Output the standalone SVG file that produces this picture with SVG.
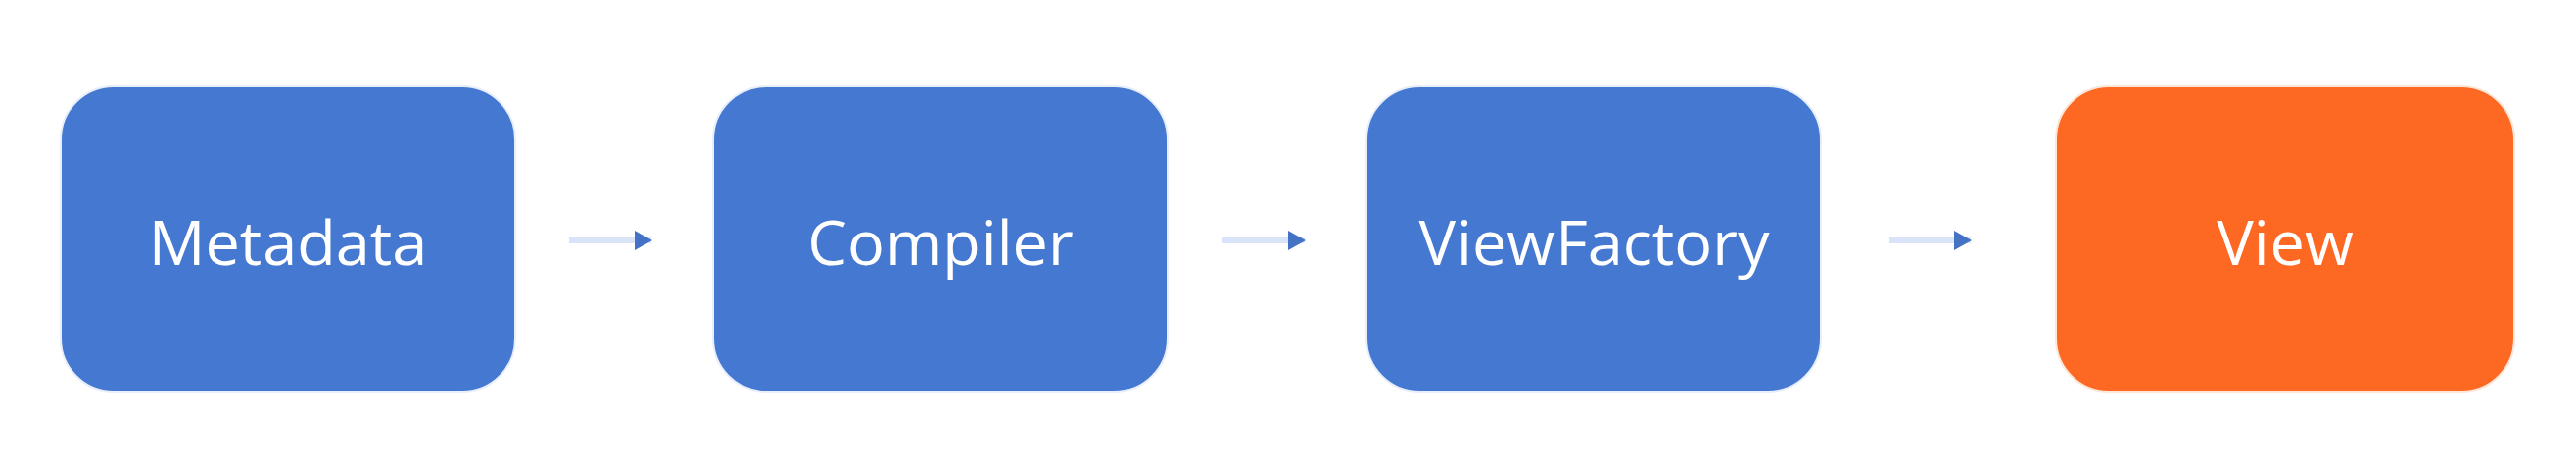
<svg xmlns="http://www.w3.org/2000/svg" width="2594" height="478" viewBox="0 0 2594 478">
<style>
.box{stroke:#e8eefa;stroke-width:2}
.blue{fill:#4478d1}
.orange{fill:#fd6822;stroke:#fbe6d8}
.lbl{font-family:"Open Sans","Noto Sans",sans-serif;font-size:63px;fill:#ffffff;text-anchor:middle;dominant-baseline:central}
.conn{stroke:#d9e4f8;stroke-width:6;fill:none}
</style>
<defs>
<marker id="ah" markerWidth="18" markerHeight="20" refX="17" refY="10" orient="auto" markerUnits="userSpaceOnUse">
<path d="M0,0 L18,10 L0,20 Z" fill="#4472c4"/>
</marker>
</defs>
<rect width="2594" height="478" fill="#ffffff"/>
<g id="connectors">
<line class="conn" x1="573" y1="242" x2="656" y2="242" marker-end="url(#ah)"/>
<line class="conn" x1="1231" y1="242" x2="1314" y2="242" marker-end="url(#ah)"/>
<line class="conn" x1="1902" y1="242" x2="1985" y2="242" marker-end="url(#ah)"/>
</g>
<g id="metadata">
<rect class="box blue" x="61" y="87" width="458" height="307" rx="54" ry="54"/>
<text class="lbl" x="290" y="242">Metadata</text>
</g>
<g id="compiler">
<rect class="box blue" x="718" y="87" width="458" height="307" rx="54" ry="54"/>
<text class="lbl" x="947" y="242">Compiler</text>
</g>
<g id="viewfactory">
<rect class="box blue" x="1376" y="87" width="458" height="307" rx="54" ry="54"/>
<text class="lbl" x="1605" y="242">ViewFactory</text>
</g>
<g id="view">
<rect class="box orange" x="2070" y="87" width="462" height="307" rx="54" ry="54"/>
<text class="lbl" x="2301" y="242">View</text>
</g>
</svg>
